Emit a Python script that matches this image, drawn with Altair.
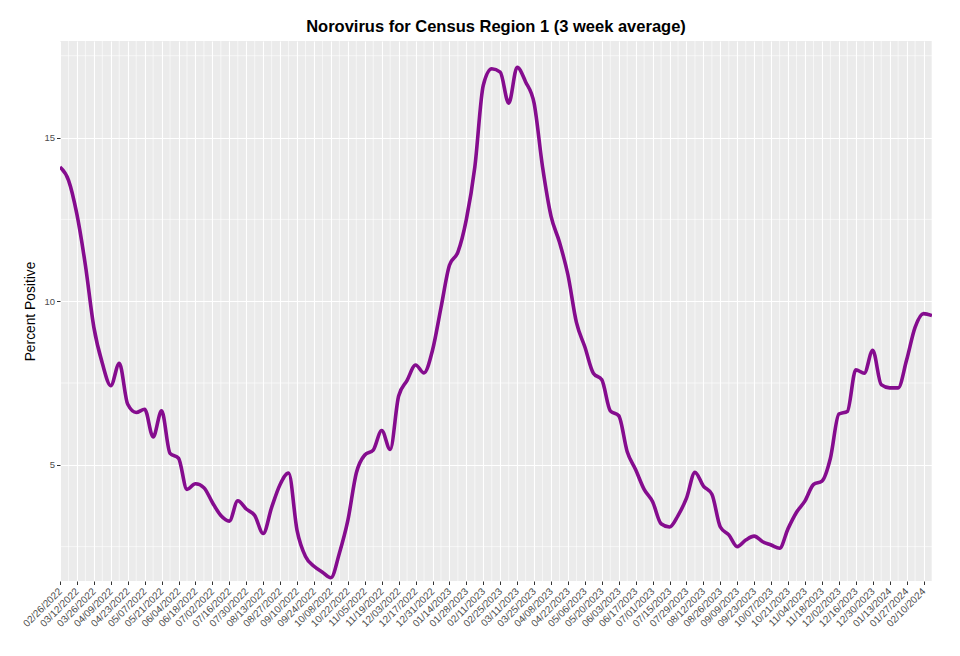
import altair as alt
import pandas as pd

# Weekly 3-week-average percent positive, starting 02/26/2022
start_date = "2022-02-26"
pct_positive = [
    14.1, 13.7, 12.65, 11.1, 9.2, 8.1, 7.42, 8.1, 6.85, 6.6,
    6.7, 5.85, 6.65, 5.35, 5.2, 4.25, 4.42, 4.3, 3.85, 3.45,
    3.28, 3.9, 3.65, 3.45, 2.9, 3.7, 4.4, 4.75, 3.0, 2.2,
    1.9, 1.72, 1.55, 2.3, 3.3, 4.75, 5.3, 5.45, 6.05, 5.47,
    7.1, 7.58, 8.05, 7.81, 8.5, 9.8, 11.1, 11.5, 12.5, 14.1,
    16.6, 17.1, 17.0, 16.05, 17.15, 16.7, 16.05, 14.1, 12.6, 11.8,
    10.8, 9.35, 8.6, 7.8, 7.6, 6.65, 6.5, 5.4, 4.85, 4.25,
    3.87, 3.2, 3.1, 3.45, 3.98, 4.77, 4.35, 4.1, 3.1, 2.86,
    2.5, 2.7, 2.82, 2.65, 2.55, 2.45, 3.05, 3.55, 3.9, 4.4,
    4.5, 5.2, 6.55, 6.63, 7.9, 7.8, 8.5, 7.45, 7.35, 7.35,
    8.2, 9.2, 9.62, 9.56,
]
y_major = [5, 10, 15]
y_minor = [2.5, 7.5, 12.5, 17.5]
y_domain = [1.45, 17.95]

dates = pd.date_range(start_date, periods=len(pct_positive), freq="7D")
df = pd.DataFrame({"date": dates.strftime("%Y-%m-%dT00:00:00"), "pct": pct_positive})

major_dates = dates[::2]
minor_dates = dates[1::2]
minor_df = pd.DataFrame({"date": minor_dates.strftime("%Y-%m-%dT00:00:00")})
yminor_df = pd.DataFrame({"pct": y_minor})


def dt(d):
    return alt.DateTime(year=int(d.year), month=int(d.month), date=int(d.day))


x_scale = alt.Scale(domain=[dt(dates[0]), dt(dates[-1])], nice=False)
y_scale = alt.Scale(domain=y_domain, nice=False, zero=False)

x_axis = alt.Axis(
    values=[dt(d) for d in major_dates],
    format="%m/%d/%Y",
    labelAngle=315,
    labelAlign="right",
    labelBaseline="middle",
    labelPadding=5,
    labelOverlap=False,
    labelFontSize=10,
    title=None,
    grid=True,
)
y_axis = alt.Axis(
    values=y_major,
    title="Percent Positive",
    titleX=-30,
    titleY=270,
    titleAngle=270,
    titleAlign="center",
    titleBaseline="middle",
    grid=True,
)

minor_v = alt.Chart(minor_df).mark_rule(color="white", strokeWidth=0.6).encode(
    x=alt.X("date:T", scale=x_scale, axis=x_axis)
)
minor_h = alt.Chart(yminor_df).mark_rule(color="white", strokeWidth=0.6).encode(
    y=alt.Y("pct:Q", scale=y_scale, axis=y_axis)
)

line = alt.Chart(df).mark_line(
    color="#850C8E", strokeWidth=3.6, interpolate="monotone", clip=True
).encode(
    x=alt.X("date:T", scale=x_scale, axis=x_axis),
    y=alt.Y("pct:Q", scale=y_scale, axis=y_axis),
)

chart = (
    alt.layer(minor_v, minor_h, line)
    .properties(
        width=872,
        height=540,
        autosize=alt.AutoSizeParams(type="none"),
        padding={"left": 52, "top": 33, "right": 20, "bottom": 66},
        title=alt.TitleParams(
            "Norovirus for Census Region 1 (3 week average)",
            fontSize=16.5,
            fontWeight="bold",
            font="Liberation Sans",
            anchor="middle",
            offset=5,
            color="black",
        ),
    )
    .configure_view(fill="#EBEBEB", stroke=None)
    .configure_axis(
        domain=False,
        gridColor="white",
        gridWidth=1.1,
        tickColor="#333333",
        tickSize=3.5,
        labelColor="#4D4D4D",
        labelFont="Liberation Sans",
        labelFontSize=9.5,
        titleFont="Liberation Sans",
        titleFontSize=13.8,
        titleFontWeight="normal",
        titleColor="black",
    )
)

chart.save("out.html", embed_options={"renderer": "svg", "actions": False})
